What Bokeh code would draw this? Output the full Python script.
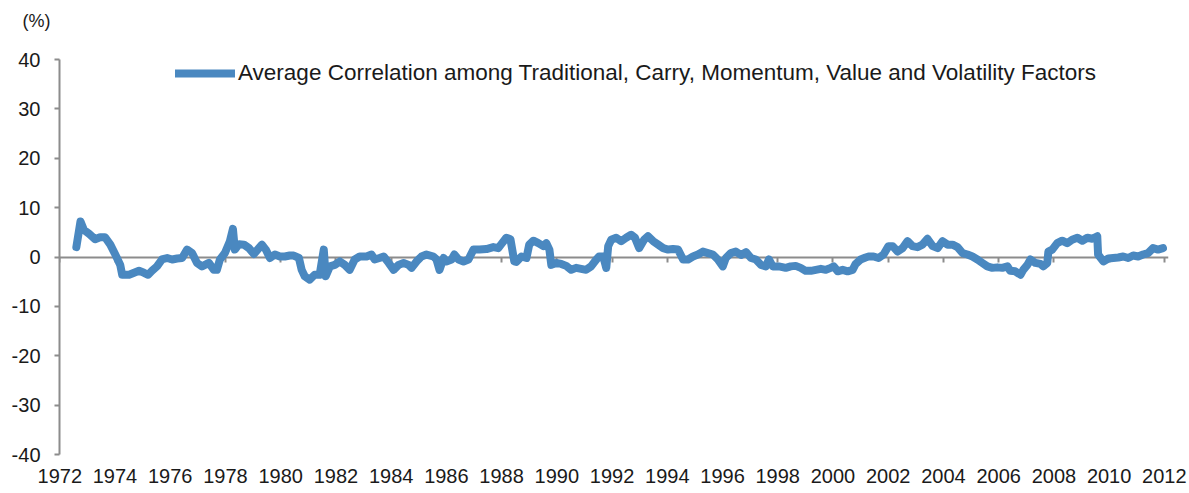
from bokeh.plotting import figure
from bokeh.models import Range1d, FixedTicker, LinearAxis, Legend, LegendItem, Title
from bokeh.embed import file_html
from bokeh.resources import INLINE

series_name = "Average Correlation among Traditional, Carry, Momentum, Value and Volatility Factors"

years = [
    1972.60, 1972.75, 1972.87, 1973.06, 1973.28, 1973.46, 1973.64, 1973.83, 1974.01, 1974.19,
    1974.26, 1974.51, 1974.69, 1974.87, 1975.05, 1975.20, 1975.34, 1975.52, 1975.70, 1975.89,
    1976.07, 1976.25, 1976.43, 1976.61, 1976.79, 1976.97, 1977.15, 1977.40, 1977.58, 1977.69,
    1977.80, 1977.98, 1978.16, 1978.27, 1978.34, 1978.49, 1978.67, 1978.85, 1979.03, 1979.21,
    1979.32, 1979.46, 1979.61, 1979.79, 1979.97, 1980.15, 1980.33, 1980.47, 1980.66, 1980.76,
    1980.87, 1981.05, 1981.23, 1981.41, 1981.56, 1981.63, 1981.78, 1981.96, 1982.14, 1982.32,
    1982.50, 1982.68, 1982.86, 1983.11, 1983.29, 1983.40, 1983.58, 1983.73, 1983.91, 1984.09,
    1984.27, 1984.45, 1984.63, 1984.74, 1984.92, 1985.10, 1985.28, 1985.53, 1985.64, 1985.75,
    1985.90, 1986.00, 1986.19, 1986.29, 1986.44, 1986.62, 1986.80, 1986.98, 1987.20, 1987.45,
    1987.70, 1987.88, 1987.99, 1988.17, 1988.32, 1988.46, 1988.53, 1988.72, 1988.90, 1989.00,
    1989.15, 1989.33, 1989.51, 1989.62, 1989.73, 1989.80, 1989.98, 1990.16, 1990.34, 1990.52,
    1990.70, 1990.88, 1991.06, 1991.24, 1991.43, 1991.53, 1991.68, 1991.79, 1991.86, 1991.97,
    1992.15, 1992.33, 1992.51, 1992.69, 1992.83, 1992.98, 1993.16, 1993.30, 1993.49, 1993.67,
    1993.85, 1994.03, 1994.21, 1994.39, 1994.57, 1994.75, 1994.93, 1995.11, 1995.29, 1995.47,
    1995.65, 1995.83, 1996.01, 1996.12, 1996.30, 1996.48, 1996.67, 1996.85, 1997.03, 1997.21,
    1997.39, 1997.57, 1997.68, 1997.82, 1998.04, 1998.29, 1998.47, 1998.65, 1998.83, 1999.01,
    1999.20, 1999.38, 1999.56, 1999.74, 1999.92, 2000.03, 2000.17, 2000.35, 2000.53, 2000.71,
    2000.82, 2001.00, 2001.18, 2001.29, 2001.47, 2001.65, 2001.83, 2002.01, 2002.16, 2002.34,
    2002.52, 2002.70, 2002.88, 2003.06, 2003.24, 2003.42, 2003.61, 2003.79, 2003.97, 2004.15,
    2004.33, 2004.51, 2004.69, 2004.87, 2005.05, 2005.23, 2005.41, 2005.59, 2005.77, 2005.95,
    2006.13, 2006.32, 2006.42, 2006.60, 2006.79, 2006.89, 2007.04, 2007.15, 2007.33, 2007.51,
    2007.62, 2007.76, 2007.80, 2007.94, 2008.12, 2008.30, 2008.48, 2008.66, 2008.85, 2009.03,
    2009.21, 2009.39, 2009.57, 2009.60, 2009.79, 2009.97, 2010.15, 2010.33, 2010.51, 2010.69,
    2010.87, 2011.05, 2011.23, 2011.41, 2011.59, 2011.77, 2011.95,
]

avg_corr = [
    2.0, 7.2, 5.5, 4.7, 3.6, 4.0, 4.0, 2.5, 0.5, -1.6,
    -3.6, -3.6, -3.2, -2.8, -3.2, -3.6, -2.8, -1.9, -0.5, -0.2,
    -0.5, -0.3, -0.2, 1.5, 0.8, -1.2, -1.9, -1.2, -2.6, -2.6,
    -0.5, 0.8, 3.2, 5.7, 1.5, 2.6, 2.5, 1.8, 0.6, 1.8,
    2.5, 1.5, -0.2, 0.5, 0.1, 0.1, 0.3, 0.3, -0.2, -2.6,
    -3.9, -4.6, -3.6, -3.6, 1.5, -3.9, -1.9, -1.6, -0.9, -1.6,
    -2.6, -0.5, 0.1, 0.1, 0.5, -0.5, -0.2, 0.1, -1.2, -2.6,
    -1.6, -1.2, -1.6, -2.2, -0.9, 0.1, 0.5, 0.1, -0.5, -2.6,
    -0.2, -0.9, -0.5, 0.5, -0.5, -0.9, -0.5, 1.5, 1.5, 1.6,
    2.0, 1.8, 2.6, 3.9, 3.6, -0.9, -1.0, 0.1, -0.2, 2.5,
    3.3, 2.8, 2.2, 2.8, 1.5, -1.6, -1.2, -1.4, -1.8, -2.6,
    -2.2, -2.4, -2.6, -1.9, -0.5, 0.1, 0.1, -2.2, 2.2, 3.5,
    3.9, 3.2, 3.9, 4.5, 3.9, 1.8, 3.5, 4.2, 3.2, 2.5,
    1.8, 1.5, 1.6, 1.5, -0.5, -0.5, 0.1, 0.5, 1.1, 0.8,
    0.5, -0.5, -1.9, -0.2, 0.8, 1.1, 0.4, 1.0, -0.2, -0.5,
    -1.6, -1.9, -0.5, -1.9, -1.9, -2.2, -1.9, -1.8, -2.2, -2.8,
    -2.8, -2.6, -2.4, -2.6, -2.2, -1.9, -2.9, -2.6, -2.9, -2.6,
    -1.4, -0.5, -0.1, 0.1, 0.1, -0.2, 0.5, 2.2, 2.2, 1.1,
    1.8, 3.2, 2.2, 2.0, 2.5, 3.7, 2.2, 1.8, 3.2, 2.5,
    2.5, 2.0, 0.8, 0.5, 0.1, -0.5, -1.2, -1.9, -2.2, -2.1,
    -2.2, -1.9, -2.8, -2.9, -3.6, -2.6, -1.6, -0.5, -1.2, -1.4,
    -1.9, -1.2, 1.1, 1.5, 2.8, 3.3, 2.8, 3.5, 3.9, 3.3,
    3.9, 3.7, 4.2, 0.5, -0.9, -0.3, -0.2, -0.1, 0.1, -0.2,
    0.3, 0.1, 0.5, 0.8, 1.8, 1.5, 1.8,
]

x_ticks = [1972, 1974, 1976, 1978, 1980, 1982, 1984, 1986, 1988, 1990, 1992,
           1994, 1996, 1998, 2000, 2002, 2004, 2006, 2008, 2010, 2012]
y_ticks = [-40, -30, -20, -10, 0, 10, 20, 30, 40]
y_tick_labels = ["-40", "-30", "-20", "-10", "0", "10", "20", "30", "40"]
unit_label = "(%)"

LINE_COLOR = "#4A88C0"
AXIS_GRAY = "#8C8C8C"
FONT = "Liberation Sans"
TEXT_COLOR = "#1a1a1a"

p = figure(width=1189, height=493,
           x_range=Range1d(1971.99, 2012.15), y_range=Range1d(-40, 40),
           output_backend="svg", toolbar_location=None,
           min_border_left=59, min_border_right=21, min_border_top=59, min_border_bottom=39)
p.outline_line_color = None
p.grid.visible = False
p.background_fill_color = "white"
p.border_fill_color = "white"

# title used as the "(%)" unit label at the top-left; the trailing empty line
# lifts the visible line up into the top margin
p.title = Title(text=unit_label + "\n", align="left", offset=-37, standoff=17,
                vertical_align="bottom",
                text_font=FONT, text_font_size="18px", text_font_style="normal",
                text_color=TEXT_COLOR)

# y axis
ya = p.yaxis[0]
ya.ticker = FixedTicker(ticks=y_ticks)
ya.major_label_overrides = dict(zip(y_ticks, y_tick_labels))
ya.axis_line_color = AXIS_GRAY
ya.axis_line_width = 2
ya.major_tick_line_color = AXIS_GRAY
ya.major_tick_line_width = 2
ya.major_tick_out = 5
ya.major_tick_in = 0
ya.minor_tick_line_color = None
ya.major_label_standoff = 14
ya.major_label_text_font = FONT
ya.major_label_text_font_size = "20px"
ya.major_label_text_color = TEXT_COLOR

# bottom axis: labels only
xa = p.xaxis[0]
xa.ticker = FixedTicker(ticks=x_ticks)
xa.axis_line_color = None
xa.major_tick_line_color = None
xa.minor_tick_line_color = None
xa.major_tick_out = 0
xa.major_tick_in = 0
xa.major_label_standoff = 14
xa.major_label_text_font = FONT
xa.major_label_text_font_size = "20px"
xa.major_label_text_color = TEXT_COLOR

# zero line axis with downward ticks, no labels
za = LinearAxis(fixed_location=0, ticker=FixedTicker(ticks=x_ticks),
                major_label_overrides={t: "" for t in x_ticks},
                major_label_text_font_size="1px", major_label_standoff=0,
                axis_line_color=AXIS_GRAY, axis_line_width=2,
                major_tick_line_color=AXIS_GRAY, major_tick_line_width=2,
                major_tick_out=0, major_tick_in=5,
                minor_tick_line_color=None, level="underlay")
p.add_layout(za, "above")

r = p.line(years, avg_corr, line_color=LINE_COLOR, line_width=8,
           line_cap="round", line_join="round")

legend = Legend(items=[LegendItem(label=series_name, renderers=[r])],
                location=(116, 368), orientation="horizontal",
                border_line_color=None, background_fill_alpha=0,
                padding=0, margin=0, spacing=0,
                glyph_width=60, glyph_height=22, label_height=22,
                label_standoff=3,
                label_text_font=FONT, label_text_font_size="22.5px",
                label_text_color=TEXT_COLOR)
p.add_layout(legend)

open("out.html", "w").write(file_html(p, INLINE))
